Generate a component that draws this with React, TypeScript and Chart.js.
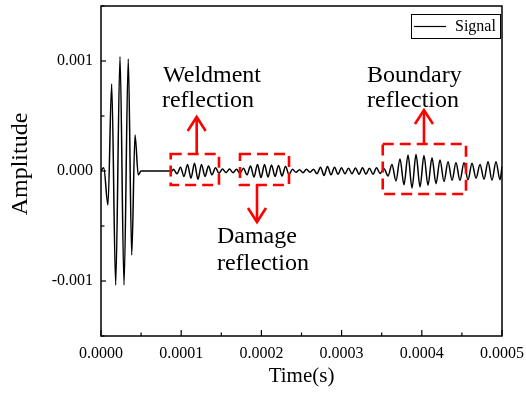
import React, { useEffect, useRef } from "react";
import { Chart, registerables } from "chart.js";

Chart.register(...registerables);

// ---- Data (time in microseconds, amplitude in micro-units) ----
const timeMicros = [
  0, 3.4, 8.7, 13.3, 18.3, 23.7, 28.7, 34.0, 38.3, 42.4, 46.5, 50.0, 70.0, 88.5,
  90.4, 94.8, 99.1, 103.5, 107.9, 112.2, 116.6, 120.9, 125.3, 129.7, 134.0, 138.4, 142.8, 147.1,
  151.5, 155.9, 160.2, 164.6, 169.0, 173.3,
  177.7, 182.0, 186.4, 190.8, 195.1, 199.5, 203.9, 208.2, 212.6, 217.0, 221.3, 225.7, 230.1, 234.4,
  238.8, 243.1, 247.5, 251.9, 256.2, 260.6, 265.0, 269.3, 273.7, 278.1, 282.4, 286.8, 291.2, 295.5,
  299.9, 304.2, 308.6, 313.0, 317.3, 321.7, 326.1, 330.4, 334.8, 339.2, 343.5, 347.9,
  352.9, 357.9, 362.8, 367.8, 372.8, 377.8, 382.8, 387.8, 392.8, 397.8, 402.7, 407.7, 412.7, 417.7,
  422.7, 427.7, 432.7, 437.7, 442.6, 447.6, 452.6,
  457.6, 462.6, 467.6, 472.6, 477.6, 482.6, 487.5, 492.5, 497.5, 500.0,
];
const amplitudeMicro = [
  0, 30, -309, 791, -1036, 1039, -1036, 1018, -764, 327, -36, 0, 0, 0,
  15, -25, 35, -50, 60, -65, 70, -75, 60, -50, 45, -35, 30, -20,
  18, -15, 18, -15, 15, -20,
  25, -35, 45, -55, 60, -60, 60, -55, 55, -50, 50, -45, 40, -30,
  15, -12, 12, -15, 15, -12, 15, -25, 35, -40, 40, -35, 35, -30,
  30, -25, 25, -25, 28, -30, 30, -28, 25, -30, 30, -22,
  20, -45, 60, -90, 110, -125, 145, -155, 150, -145, 140, -130, 120, -115,
  100, -95, 85, -85, 75, -85, 75,
  -80, 70, -65, 60, -75, 85, -85, 85, -80, 40,
];
const seriesName = "Signal";
const xTickLabelStep = 0.0001;
const yTickLabelStep = 0.001;
const xAxisTitle = "Time(s)";
const yAxisTitle = "Amplitude";

// Annotations in data units (time µs, amplitude µ-units)
const annotationBoxes = [
  { t0: 86.9, t1: 147.1, a0: -127, a1: 154 },
  { t0: 173.3, t1: 234.4, a0: -127, a1: 154 },
  { t0: 351.3, t1: 455.1, a0: -209, a1: 245 },
];
const annotationArrows = [
  { t: 119.3, from: 154, to: 491 },
  { t: 194.5, from: -127, to: -464 },
  { t: 402.7, from: 245, to: 554 },
];
const annotationTexts = [
  { text: "Weldment", t: 77.3, a: 809 },
  { text: "reflection", t: 76.0, a: 582 },
  { text: "Damage", t: 144.6, a: -655 },
  { text: "reflection", t: 144.6, a: -900 },
  { text: "Boundary", t: 331.7, a: 809 },
  { text: "reflection", t: 331.7, a: 582 },
];

const SERIF = '"Liberation Serif", "Times New Roman", serif';

const isMultiple = (v: number, step: number) =>
  Math.abs(v / step - Math.round(v / step)) < 1e-6;

const zeroPadding = (s: any) => {
  s.paddingTop = 0;
  s.paddingBottom = 0;
  s.paddingLeft = 0;
  s.paddingRight = 0;
};

const overlayPlugin = {
  id: "overlay",
  afterDatasetsDraw(chart: any) {
    const { ctx, chartArea: a, scales } = chart;
    const xs = scales.x;
    const ys = scales.y;
    ctx.save();

    // frame
    ctx.strokeStyle = "#000";
    ctx.lineWidth = 1.5;
    ctx.setLineDash([]);
    ctx.strokeRect(a.left, a.top, a.right - a.left, a.bottom - a.top);

    // inward ticks - x
    ctx.lineWidth = 1.2;
    for (let i = 0; i <= 10; i++) {
      const v = (xs.max - xs.min) * (i / 10) + xs.min;
      const px = xs.getPixelForValue(v);
      const len = i % 2 === 0 ? 6 : 3.5;
      ctx.beginPath();
      ctx.moveTo(px, a.bottom);
      ctx.lineTo(px, a.bottom - len);
      ctx.stroke();
    }
    // inward ticks - y
    for (let i = 0; i <= 6; i++) {
      const v = (ys.max - ys.min) * (i / 6) + ys.min;
      const py = ys.getPixelForValue(v);
      const len = i % 2 === 1 ? 5 : 3.5;
      ctx.beginPath();
      ctx.moveTo(a.left, py);
      ctx.lineTo(a.left + len, py);
      ctx.stroke();
    }

    // y axis title
    ctx.save();
    ctx.translate(20.5, (a.top + a.bottom) / 2 - 7);
    ctx.rotate(-Math.PI / 2);
    ctx.fillStyle = "#000";
    ctx.font = `24px ${SERIF}`;
    ctx.textAlign = "center";
    ctx.textBaseline = "middle";
    ctx.fillText(yAxisTitle, 0, 0);
    ctx.restore();

    // red dashed boxes
    ctx.strokeStyle = "#ff0000";
    ctx.lineWidth = 2.6;
    ctx.setLineDash([11, 6]);
    for (const b of annotationBoxes) {
      const x0 = xs.getPixelForValue(b.t0 * 1e-6);
      const x1 = xs.getPixelForValue(b.t1 * 1e-6);
      const y0 = ys.getPixelForValue(b.a1 * 1e-6);
      const y1 = ys.getPixelForValue(b.a0 * 1e-6);
      ctx.strokeRect(x0, y0, x1 - x0, y1 - y0);
    }
    // arrows
    ctx.setLineDash([]);
    for (const ar of annotationArrows) {
      const x = xs.getPixelForValue(ar.t * 1e-6);
      const yFrom = ys.getPixelForValue(ar.from * 1e-6);
      const yTo = ys.getPixelForValue(ar.to * 1e-6);
      const dir = yTo < yFrom ? 1 : -1;
      ctx.beginPath();
      ctx.moveTo(x, yFrom);
      ctx.lineTo(x, yTo);
      ctx.stroke();
      ctx.beginPath();
      ctx.moveTo(x - 9, yTo + dir * 14);
      ctx.lineTo(x, yTo);
      ctx.lineTo(x + 9, yTo + dir * 14);
      ctx.stroke();
    }

    // annotation texts
    ctx.fillStyle = "#000";
    ctx.font = `24px ${SERIF}`;
    ctx.textAlign = "left";
    ctx.textBaseline = "alphabetic";
    for (const t of annotationTexts) {
      ctx.fillText(t.text, xs.getPixelForValue(t.t * 1e-6), ys.getPixelForValue(t.a * 1e-6));
    }

    // legend
    const lx = a.right - 91;
    const ly = a.top + 8;
    ctx.fillStyle = "#fff";
    ctx.fillRect(lx, ly, 89, 24);
    ctx.strokeStyle = "#000";
    ctx.lineWidth = 1;
    ctx.strokeRect(lx + 0.5, ly + 0.5, 89, 24);
    ctx.lineWidth = 1.2;
    ctx.beginPath();
    ctx.moveTo(lx + 3, ly + 12.5);
    ctx.lineTo(lx + 35, ly + 12.5);
    ctx.stroke();
    ctx.fillStyle = "#000";
    ctx.font = `16px ${SERIF}`;
    ctx.textBaseline = "middle";
    ctx.fillText(seriesName, lx + 44, ly + 13);

    ctx.restore();
  },
};

export default function App() {
  const canvasRef = useRef<HTMLCanvasElement | null>(null);

  useEffect(() => {
    document.body.style.margin = "0";
    const canvas = canvasRef.current;
    if (!canvas) return;
    const points = timeMicros.map((t, i) => ({ x: t * 1e-6, y: amplitudeMicro[i] * 1e-6 }));
    const chart = new Chart(canvas, {
      type: "line",
      data: {
        datasets: [
          {
            label: seriesName,
            data: points,
            borderColor: "#000",
            borderWidth: 1.5,
            pointRadius: 0,
            cubicInterpolationMode: "monotone",
            fill: false,
          },
        ],
      },
      options: {
        animation: false,
        responsive: false,
        maintainAspectRatio: false,
        devicePixelRatio: 1,
        layout: { padding: { top: 6, right: 24, left: 0, bottom: 0 } },
        plugins: { legend: { display: false }, tooltip: { enabled: false } },
        scales: {
          x: {
            type: "linear",
            min: 0,
            max: 0.0005,
            border: { display: false },
            grid: { display: false, drawTicks: false },
            ticks: {
              stepSize: xTickLabelStep,
              padding: 8,
              color: "#000",
              font: { family: SERIF, size: 16 },
              maxRotation: 0,
              autoSkip: false,
              callback: (v: any) => (isMultiple(Number(v), xTickLabelStep) ? Number(v).toFixed(4) : ""),
            },
            title: {
              display: true,
              text: xAxisTitle,
              color: "#000",
              font: { family: SERIF, size: 21 },
              padding: { top: 0, bottom: 6 },
            },
            afterFit: (s: any) => {
              s.height = 59;
              zeroPadding(s);
            },
          },
          y: {
            type: "linear",
            min: -0.0015,
            max: 0.0015,
            border: { display: false },
            grid: { display: false, drawTicks: false },
            ticks: {
              stepSize: 0.0005,
              padding: 8,
              color: "#000",
              font: { family: SERIF, size: 16 },
              autoSkip: false,
              callback: (v: any) => (isMultiple(Number(v), yTickLabelStep) ? Number(v).toFixed(3) : ""),
            },
            title: { display: false, text: yAxisTitle },
            afterFit: (s: any) => {
              s.width = 101;
              zeroPadding(s);
            },
          },
        },
      },
      plugins: [overlayPlugin],
    });
    return () => chart.destroy();
  }, []);

  return (
    <div style={{ width: 526, height: 395 }}>
      <canvas ref={canvasRef} width={526} height={395} style={{ display: "block" }} />
    </div>
  );
}
